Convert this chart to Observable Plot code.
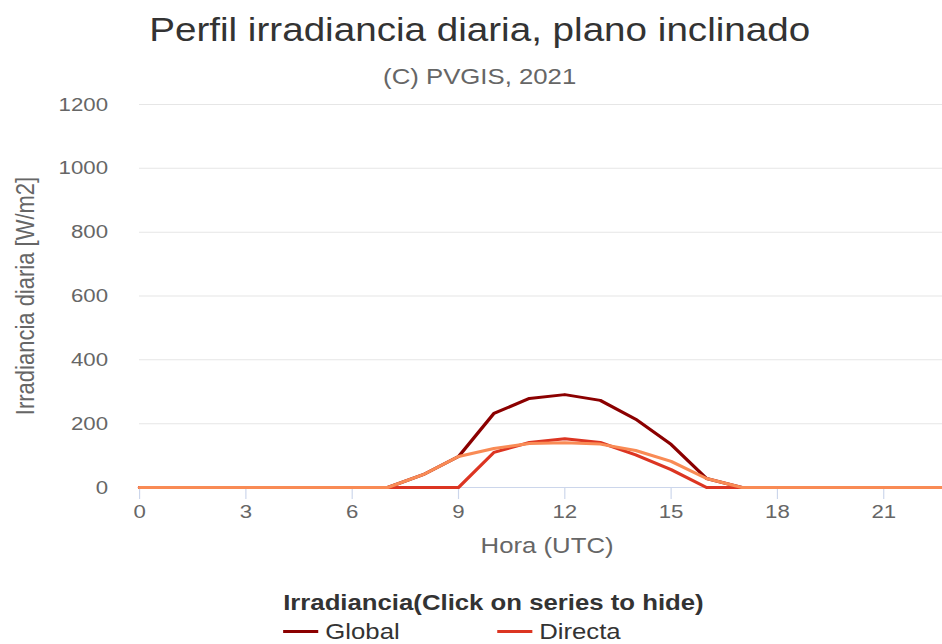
<!DOCTYPE html>
<html>
<head>
<meta charset="utf-8">
<script src="https://cdn.jsdelivr.net/npm/d3@7"></script>
<script src="https://cdn.jsdelivr.net/npm/@observablehq/plot@0.6"></script>
<style>
  html, body { margin: 0; padding: 0; width: 942px; height: 644px; overflow: hidden; background: #fff; }
  #wrap { position: absolute; left: 0; top: 0; width: 817px; height: 644px; overflow: hidden; transform: scaleX(1.17); transform-origin: 0 0;
          font-family: "Liberation Sans", Arial, Helvetica, sans-serif; }
  .abs { position: absolute; white-space: nowrap; }
  #title { left: 0; width: 820px; top: 13px; text-align: center; font-size: 33px; line-height: 33px; color: #333; }
  #subtitle { left: 0; width: 820px; top: 66px; text-align: center; font-size: 22px; line-height: 22px; color: #666; }
  #chart { left: 0; top: 90px; }
  #legtitle { left: 242px; top: 592px; font-size: 22px; line-height: 22px; font-weight: bold; color: #333; }
  .item { font-size: 22px; line-height: 18px; color: #333; }
  .sym { display: inline-block; width: 30px; height: 3px; vertical-align: middle; margin-right: 6px; position: relative; top: -2px; }
</style>
</head>
<body>
<div id="wrap">
  <div id="title" class="abs"></div>
  <div id="subtitle" class="abs"></div>
  <div id="chart" class="abs"></div>
  <div id="legtitle" class="abs"></div>
  <div id="legend"></div>
</div>
<script>
// ---- data ----
const titleText = "Perfil irradiancia diaria, plano inclinado";
const subtitleText = "(C) PVGIS, 2021";
const xLabel = "Hora (UTC)";
const yLabel = "Irradiancia diaria [W/m2]";
const legendTitle = "Irradiancia(Click on series to hide)";
const hours = [0,1,2,3,4,5,6,7,8,9,10,11,12,13,14,15,16,17,18,19,20,21,22,23];
const globalVals = [0,0,0,0,0,0,0,0,40,97,232,279,291,273,214,135,28,0,0,0,0,0,0,0];
const directVals = [0,0,0,0,0,0,0,0,0,0,110,141,153,141,102,56,0,0,0,0,0,0,0,0];
const diffuseVals = [0,0,0,0,0,0,0,0,40,97,122,138,140,136,116,82,28,0,0,0,0,0,0,0];
const seriesNames = ["Global", "Directa", "Difusa"];
const seriesColors = ["#8b0000", "#dc3522", "#f98b55"];
const legendShown = ["Global", "Directa"];   // the reference's legend shows only these two
const xTicks = [0,3,6,9,12,15,18,21];
const yTicks = [0,200,400,600,800,1000,1200];

document.getElementById("title").textContent = titleText;
document.getElementById("subtitle").textContent = subtitleText;
document.getElementById("legtitle").textContent = legendTitle;

const seriesVals = [globalVals, directVals, diffuseVals];
const rows = seriesVals.map(vals => hours.map((h, i) => ({h, v: vals[i]})));

const chart = Plot.plot({
  width: 817,
  height: 467,
  marginLeft: 118.8,
  marginRight: 1.6,
  marginTop: 14,
  marginBottom: 70,
  style: {fontFamily: '"Liberation Sans", Arial, sans-serif', fontSize: "19px", color: "#666", background: "transparent", overflow: "visible"},
  x: {domain: [0, 23]},
  y: {domain: [0, 1200]},
  marks: [
    Plot.ruleY(yTicks.filter(d => d > 0), {stroke: "#e6e6e6", strokeWidth: 1}),
    Plot.axisY({ticks: yTicks, tickFormat: d3.format("d"), tickSize: 0, tickPadding: 27, label: null, fill: "#666", fontSize: 19}),
    Plot.axisX({ticks: xTicks, tickFormat: d3.format("d"), tickSize: 12, tickPadding: 5, label: null, fill: "#666", stroke: "#ccd6eb", fontSize: 19}),
    Plot.ruleY([0], {stroke: "#ccd6eb", strokeWidth: 1}),
    ...rows.map((r, i) => Plot.line(r, {x: "h", y: "v", stroke: seriesColors[i], strokeWidth: 3, strokeLinejoin: "round", strokeLinecap: "round"})),
    Plot.text([xLabel], {frameAnchor: "bottom", dy: 58, textAnchor: "middle", lineAnchor: "middle", fill: "#666", fontSize: 22}),
    Plot.text([yLabel], {frameAnchor: "left", dx: -97, rotate: -90, textAnchor: "middle", lineAnchor: "middle", fill: "#666", fontSize: 22})
  ]
});
document.getElementById("chart").appendChild(chart);

// legend
const legend = document.getElementById("legend");
const positions = [[242, 623], [424.8, 623]];
legendShown.forEach((name, i) => {
  const k = seriesNames.indexOf(name);
  const d = document.createElement("div");
  d.className = "abs item";
  d.style.left = positions[i][0] + "px";
  d.style.top = positions[i][1] + "px";
  const s = document.createElement("span");
  s.className = "sym";
  s.style.background = seriesColors[k];
  d.appendChild(s);
  d.appendChild(document.createTextNode(name));
  legend.appendChild(d);
});
</script>
</body>
</html>
